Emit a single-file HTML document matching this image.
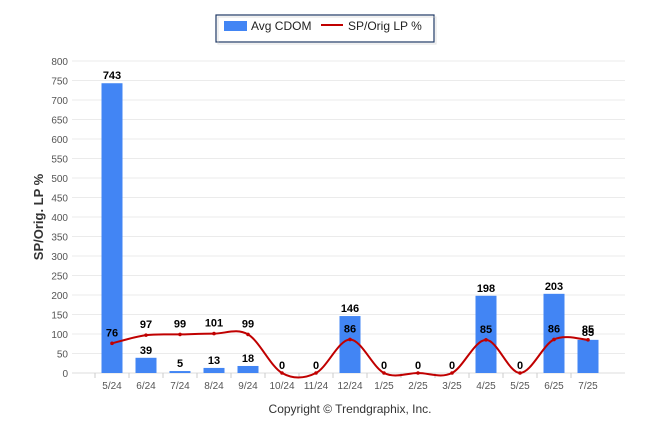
<!DOCTYPE html>
<html><head><meta charset="utf-8"><style>
body{margin:0;background:#fff;font-family:"Liberation Sans",Arial,sans-serif}
svg text{font-family:"Liberation Sans",Arial,sans-serif}
</style></head><body>
<svg id="c" width="646" height="434" viewBox="0 0 646 434">
<g>
<rect x="216" y="15" width="218" height="27" fill="#fff" stroke="#1f3864" stroke-width="1.2"/>
<rect x="218" y="17" width="218" height="27" fill="none" stroke="#ccc" opacity="0.6"/>
<rect x="224" y="21" width="23" height="10" fill="#4285f4"/>
<text x="251" y="30" font-size="12" fill="#222">Avg CDOM</text>
<line x1="321" y1="25" x2="343" y2="25" stroke="#c00000" stroke-width="2"/>
<text x="348" y="30" font-size="12" fill="#222">SP/Orig LP %</text>
</g>
<text transform="translate(43,217) rotate(-90)" text-anchor="middle" font-size="13" font-weight="bold" fill="#333">SP/Orig. LP %</text>
<text x="350" y="413" text-anchor="middle" font-size="12" fill="#333">Copyright © Trendgraphix, Inc.</text>
<g id="grid"></g><g id="bars"></g><g id="line"></g><g id="labels"></g>
</svg>
<script>
const categories=["5/24","6/24","7/24","8/24","9/24","10/24","11/24","12/24","1/25","2/25","3/25","4/25","5/25","6/25","7/25"];
const cdom=[743,39,5,13,18,0,0,146,0,0,0,198,0,203,85];
const spPct=[76,97,99,101,99,0,0,86,0,0,0,85,0,86,85];
const yTicks=[0,50,100,150,200,250,300,350,400,450,500,550,600,650,700,750,800];
const NS="http://www.w3.org/2000/svg";
const y=v=>373-v*(312/800);
const x=i=>112+i*34;
function mk(t,a,p){const e=document.createElementNS(NS,t);for(const k in a)e.setAttribute(k,a[k]);p.appendChild(e);return e;}
const g=document.getElementById('grid'),b=document.getElementById('bars'),l=document.getElementById('line'),lb=document.getElementById('labels');
yTicks.forEach(v=>{
 const ln=mk('line',{x1:72,x2:625,y1:y(v),y2:y(v),stroke:v==0?'#ddd':'#ebebeb'},g);
 
 
 const t=mk('text',{x:68,y:y(v)+4,'text-anchor':'end','font-size':10,fill:'#555'},g);t.textContent=v;
 
 
});
categories.forEach((c,i)=>{
 const tk=mk('line',{x1:x(i)-17,x2:x(i)-17,y1:373,y2:378,stroke:'#ccc'},g);
 
 
 const t=mk('text',{x:x(i),y:389,'text-anchor':'middle','font-size':10,fill:'#555'},g);t.textContent=c;
 
 
 const r=mk('rect',{x:x(i)-10.5,y:y(cdom[i]),width:21,height:373-y(cdom[i]),fill:'#4285f4'},b);
 
 
 if(cdom[i]>0||spPct[i]>0){const bt=mk('text',{x:x(i),y:y(cdom[i])-4,'text-anchor':'middle','font-size':11,'font-weight':'bold',fill:'#000'},lb);bt.textContent=cdom[i];
 
 }
 else{const bt=mk('text',{x:x(i),y:y(0)-4,'text-anchor':'middle','font-size':11,'font-weight':'bold',fill:'#000'},lb);bt.textContent=cdom[i];
 
 }
 if(spPct[i]>0){const lt=mk('text',{x:x(i),y:y(spPct[i])-7,'text-anchor':'middle','font-size':11,'font-weight':'bold',fill:'#000'},lb);lt.textContent=spPct[i];
 
 }
});
const pts=spPct.map((v,i)=>[x(i),y(v)]);
let d='M'+pts[0][0]+','+pts[0][1];
for(let i=0;i<pts.length-1;i++){
 const p0=pts[Math.max(i-1,0)],p1=pts[i],p2=pts[i+1],p3=pts[Math.min(i+2,pts.length-1)];
 const t=0.5/3*2;
 d+=` C${p1[0]+(p2[0]-p0[0])*t/2},${p1[1]+(p2[1]-p0[1])*t/2} ${p2[0]-(p3[0]-p1[0])*t/2},${p2[1]-(p3[1]-p1[1])*t/2} ${p2[0]},${p2[1]}`;
}
const path=mk('path',{d:d,fill:'none',stroke:'#c00000','stroke-width':2},l);


pts.forEach(p=>{const m=mk('circle',{cx:p[0],cy:p[1],r:1.8,fill:'#c00000'},l);

});
</script>
</body></html>
